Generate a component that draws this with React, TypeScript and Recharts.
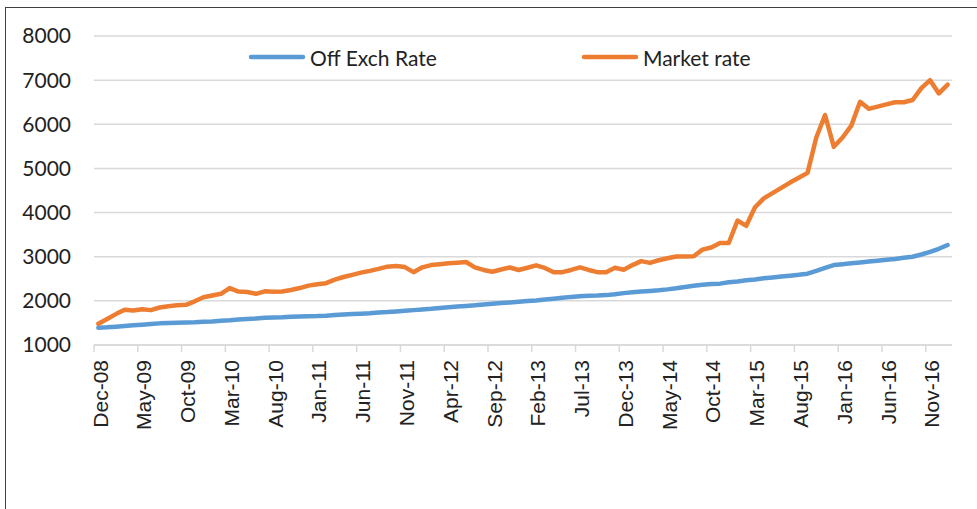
import React from "react";
import { CartesianGrid, Line, LineChart, XAxis, YAxis } from "recharts";

// monthly values, Dec-08 .. Jan-17
const OFF_EXCH_RATE = [
  1390, 1400, 1415, 1430, 1445, 1460, 1475, 1490, 1500, 1505, 1510, 1515,
  1525, 1535, 1550, 1560, 1575, 1590, 1600, 1615, 1625, 1630, 1640, 1645,
  1650, 1655, 1665, 1680, 1690, 1700, 1710, 1720, 1735, 1745, 1760, 1775,
  1790, 1805, 1820, 1840, 1855, 1870, 1885, 1900, 1920, 1935, 1950, 1965,
  1980, 1995, 2010, 2030, 2050, 2070, 2090, 2105, 2115, 2120, 2130, 2150,
  2175, 2195, 2210, 2225, 2240, 2260, 2285, 2315, 2340, 2365, 2380, 2390,
  2420, 2440, 2465, 2485, 2510, 2530, 2550, 2570, 2590, 2615, 2680, 2745,
  2810, 2830, 2850, 2870, 2890, 2910, 2930, 2950, 2975, 3000, 3050, 3110,
  3180, 3265,
];

const MARKET_RATE = [
  1480, 1590, 1700, 1800, 1780, 1810, 1790, 1850, 1880, 1900, 1910, 1990,
  2080, 2120, 2160, 2290, 2210, 2200, 2160, 2215, 2205, 2210, 2245, 2290,
  2345, 2375, 2400, 2480, 2540, 2590, 2640, 2680, 2725, 2775, 2790, 2765,
  2650, 2760, 2810, 2830, 2850, 2865, 2880, 2760, 2700, 2660, 2710, 2755,
  2700, 2750, 2805, 2745, 2650, 2650, 2700, 2760, 2700, 2650, 2650, 2750,
  2705, 2810, 2900, 2860, 2920, 2965, 3005, 3005, 3010, 3160, 3210, 3310,
  3310, 3820, 3700, 4120, 4320, 4440, 4560, 4680, 4790, 4900, 5700, 6210,
  5490, 5700, 5970, 6510, 6350, 6400, 6450, 6500, 6500, 6550, 6820, 7000,
  6700, 6900,
];

const TICK_LABELS = [
  "Dec-08", "May-09", "Oct-09", "Mar-10", "Aug-10", "Jan-11", "Jun-11",
  "Nov-11", "Apr-12", "Sep-12", "Feb-13", "Jul-13", "Dec-13", "May-14",
  "Oct-14", "Mar-15", "Aug-15", "Jan-16", "Jun-16", "Nov-16",
];

const Y_TICKS = [1000, 2000, 3000, 4000, 5000, 6000, 7000, 8000];

const BLUE = "#5b9bd5";
const ORANGE = "#ed7d31";
const GRID = "#d9d9d9";

// each month sits in the middle of its slot, tick marks on slot edges
const data = OFF_EXCH_RATE.map((v, k) => ({
  pos: k + 0.5,
  off: v,
  market: MARKET_RATE[k],
}));
const tickPos = TICK_LABELS.map((_, j) => j * 5);

function MonthTick({ x, y, payload }: any) {
  const label = TICK_LABELS[Math.round(payload.value / 5)];
  const tx = x + 6;
  return (
    <text
      x={tx}
      y={y}
      transform={`rotate(-90, ${tx}, ${y})`}
      textAnchor="end"
      dy="0.36em"
      fontFamily="'Liberation Sans', Arial, sans-serif"
      fontSize={21}
      fill="#222"
    >
      {label}
    </text>
  );
}

function LegendBox() {
  const item = (left: number, color: string, text: string) => (
    <div
      style={{
        position: "absolute",
        left,
        top: 44,
        height: 26,
        display: "flex",
        alignItems: "center",
        whiteSpace: "nowrap",
      }}
    >
      <svg width={58} height={10} style={{ marginRight: 4 }}>
        <line
          x1={3}
          y1={5}
          x2={55}
          y2={5}
          stroke={color}
          strokeWidth={4.5}
          strokeLinecap="round"
        />
      </svg>
      <span>{text}</span>
    </div>
  );
  return (
    <div
      style={{
        position: "absolute",
        left: 0,
        top: 0,
        width: 977,
        height: 100,
        fontFamily: "Lato, 'Open Sans', sans-serif",
        fontSize: 21,
        color: "#222",
      }}
    >
      {item(248, BLUE, "Off Exch Rate")}
      {item(581, ORANGE, "Market rate")}
    </div>
  );
}

export default function App() {
  return (
    <div
      style={{
        position: "fixed",
        left: 0,
        top: 0,
        width: 977,
        height: 509,
        overflow: "hidden",
        background: "#fff",
      }}
    >
      <div
        style={{
          position: "absolute",
          left: 5,
          top: 7,
          width: 1100,
          height: 700,
          borderLeft: "1.5px solid #404040",
          borderTop: "1.5px solid #404040",
        }}
      />
      <div style={{ position: "absolute", left: 0, top: 0 }}>
        <LineChart
          width={977}
          height={509}
          data={data}
          margin={{ top: 36, right: 25, bottom: 0, left: 0 }}
        >
          <CartesianGrid vertical={false} stroke={GRID} strokeWidth={1.5} />
          <XAxis
            type="number"
            dataKey="pos"
            domain={[0, 98]}
            ticks={tickPos}
            interval={0}
            height={164}
            tickSize={7}
            tickMargin={8}
            tick={<MonthTick />}
            tickLine={{ stroke: GRID, strokeWidth: 1.5 }}
            axisLine={{ stroke: GRID, strokeWidth: 1.5 }}
          />
          <YAxis
            type="number"
            domain={[1000, 8000]}
            ticks={Y_TICKS}
            interval={0}
            width={94}
            axisLine={false}
            tickLine={false}
            tickSize={0}
            tickMargin={23}
            tick={{
              fontFamily: "Lato, 'Open Sans', sans-serif",
              fontSize: 21,
              fill: "#222",
            }}
          />
          <Line
            type="linear"
            dataKey="off"
            name="Off Exch Rate"
            stroke={BLUE}
            strokeWidth={4.5}
            strokeLinecap="round"
            strokeLinejoin="round"
            dot={false}
            isAnimationActive={false}
          />
          <Line
            type="linear"
            dataKey="market"
            name="Market rate"
            stroke={ORANGE}
            strokeWidth={4.5}
            strokeLinecap="round"
            strokeLinejoin="round"
            dot={false}
            isAnimationActive={false}
          />
        </LineChart>
      </div>
      <LegendBox />
    </div>
  );
}
